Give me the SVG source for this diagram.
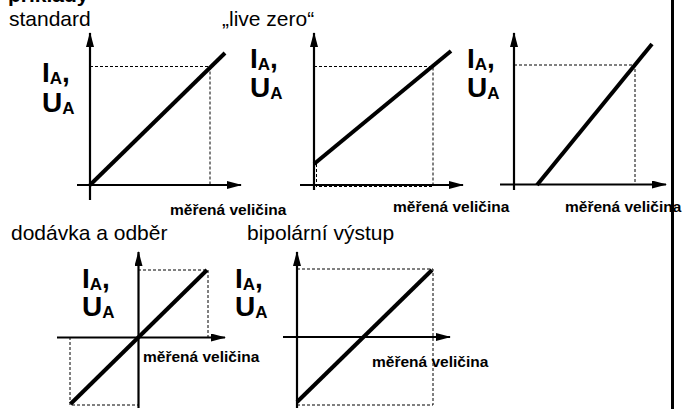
<svg xmlns="http://www.w3.org/2000/svg" width="686" height="409" viewBox="0 0 686 409">
<style>
.t{font-family:"Liberation Sans",Arial,sans-serif;fill:#000}
.h{font-size:21px}
.ax{stroke:#000;stroke-width:2.2;fill:none}
.ln{stroke:#000;stroke-width:4;fill:none;stroke-linecap:butt}
.ds{stroke:#000;stroke-width:1;fill:none;stroke-dasharray:3 2}
.lab{font-size:28px;font-weight:bold}
.sub{font-size:17px}
.mv{font-size:15.5px;font-weight:bold}
</style>
<defs>
<marker id="ah" markerUnits="userSpaceOnUse" markerWidth="16" markerHeight="10" refX="14" refY="4" orient="auto">
<path d="M0,0 L15,4 L0,8 Z" fill="#000"/>
</marker>
</defs>
<rect width="686" height="409" fill="#fff"/>
<text class="t" x="8" y="2" style="font-size:21px;font-weight:bold">příklady</text>
<text class="t h" x="9" y="26">standard</text>
<text class="t h" x="222" y="26">„live zero“</text>
<text class="t h" x="11" y="240">dodávka a odběr</text>
<text class="t h" x="247" y="240">bipolární výstup</text>

<g id="chart1">
<text class="t lab" x="42" y="82">I<tspan class="sub" dy="2">A</tspan><tspan dy="-2">,</tspan></text>
<text class="t lab" x="42" y="112">U<tspan class="sub" dy="2">A</tspan></text>
<text class="t mv" x="170" y="215">měřená veličina</text>
</g>
<g id="chart2">
<text class="t lab" x="250" y="68">I<tspan class="sub" dy="2">A</tspan><tspan dy="-2">,</tspan></text>
<text class="t lab" x="250" y="97">U<tspan class="sub" dy="2">A</tspan></text>
<text class="t mv" x="393" y="212">měřená veličina</text>
</g>
<g id="chart3">
<text class="t lab" x="467" y="68">I<tspan class="sub" dy="2">A</tspan><tspan dy="-2">,</tspan></text>
<text class="t lab" x="467" y="97">U<tspan class="sub" dy="2">A</tspan></text>
<text class="t mv" x="565" y="212">měřená veličina</text>
</g>
<g id="chart4">
<text class="t lab" x="82" y="288">I<tspan class="sub" dy="2">A</tspan><tspan dy="-2">,</tspan></text>
<text class="t lab" x="82" y="316">U<tspan class="sub" dy="2">A</tspan></text>
<text class="t mv" x="143" y="362">měřená veličina</text>
</g>
<g id="chart5">
<text class="t lab" x="235" y="288">I<tspan class="sub" dy="2">A</tspan><tspan dy="-2">,</tspan></text>
<text class="t lab" x="235" y="316">U<tspan class="sub" dy="2">A</tspan></text>
<text class="t mv" x="372" y="367">měřená veličina</text>
</g>

<g id="connectors">
<!-- chart1 -->
<path class="ds" d="M90,66.5 H210 V185"/>
<line class="ax" x1="90" y1="200" x2="90" y2="33" marker-end="url(#ah)"/>
<line class="ax" x1="77" y1="185" x2="241" y2="185" marker-end="url(#ah)"/>
<line class="ln" x1="90" y1="185" x2="225" y2="53"/>
<!-- chart2 -->
<path class="ds" d="M314,66.5 H433 V186.5 H316 M316.5,164 V186"/>
<line class="ax" x1="314" y1="190" x2="314" y2="33" marker-end="url(#ah)"/>
<line class="ax" x1="300" y1="185" x2="463" y2="185" marker-end="url(#ah)"/>
<line class="ln" x1="314" y1="164" x2="451" y2="51"/>
<!-- chart3 -->
<path class="ds" d="M514,65 H635 V185"/>
<line class="ax" x1="514" y1="190" x2="514" y2="33" marker-end="url(#ah)"/>
<line class="ax" x1="500" y1="184.5" x2="666" y2="184.5" marker-end="url(#ah)"/>
<line class="ln" x1="537" y1="185" x2="652" y2="44"/>
<!-- chart4 -->
<path class="ds" d="M138,270 H208 V337 M70,337 V405 H138"/>
<line class="ax" x1="138.5" y1="408" x2="138.5" y2="252" marker-end="url(#ah)"/>
<line class="ax" x1="57" y1="337.5" x2="225" y2="337.5" marker-end="url(#ah)"/>
<line class="ln" x1="70.5" y1="404" x2="207" y2="270"/>
<!-- chart5 -->
<path class="ds" d="M297,269 H433 V405 H297"/>
<line class="ax" x1="297" y1="408" x2="297" y2="252" marker-end="url(#ah)"/>
<line class="ax" x1="283" y1="337" x2="450" y2="337" marker-end="url(#ah)"/>
<line class="ln" x1="297" y1="402" x2="432" y2="270"/>
<!-- separator -->
<line x1="672.5" y1="0" x2="672.5" y2="409" stroke="#000" stroke-width="3"/>
</g>
</svg>
